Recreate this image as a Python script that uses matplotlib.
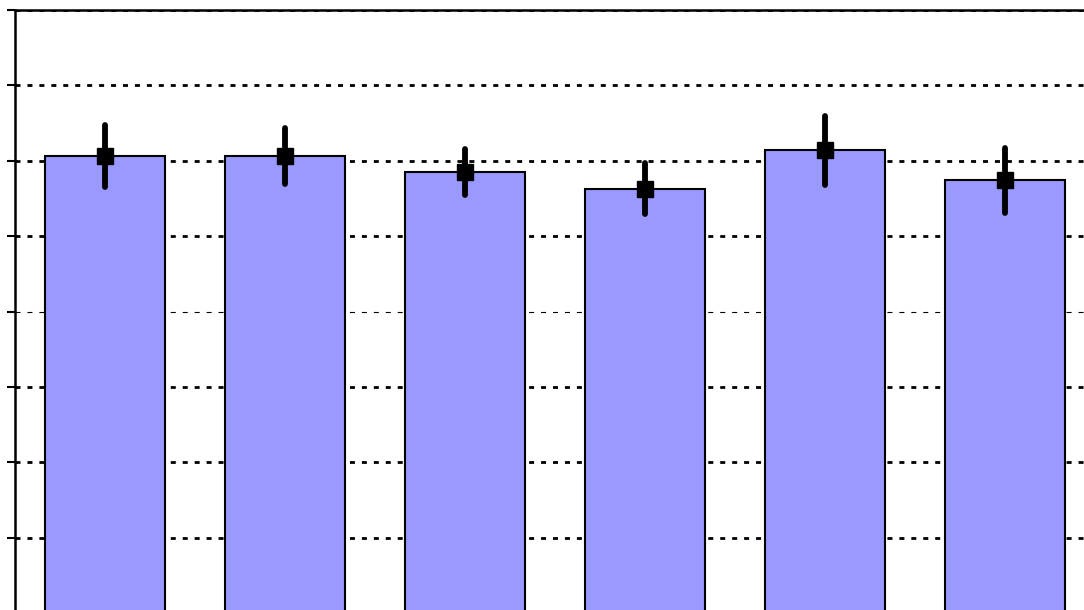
import matplotlib
matplotlib.use("Agg")
import matplotlib.pyplot as plt

# values per group
groups = ["1", "2", "3", "4", "5", "6"]
means = [6.06, 6.06, 5.85, 5.63, 6.14, 5.74]
errors = [0.41, 0.37, 0.31, 0.34, 0.46, 0.43]
y_ticks = [0, 1, 2, 3, 4, 5, 6, 7, 8]

plt.rcParams["lines.scale_dashes"] = False

fig = plt.figure(figsize=(10.84, 6.10), dpi=100)
# plot area runs slightly past the right and bottom edges
ax = fig.add_axes([15 / 1084, -3 / 610, 1080 / 1084, 603 / 610])

x = range(len(groups))
ax.bar(x, means, width=0.667, color="#9999ff", edgecolor="black",
       linewidth=1.5, zorder=2)

eb = ax.errorbar(x, means, yerr=errors, fmt="s", color="black",
                 markersize=11, elinewidth=4.2, capsize=0, zorder=3)
for col in eb[2]:
    col.set_capstyle("round")

ax.set_xlim(-0.5, 5.5)
ax.set_ylim(0, 8)
ax.set_yticks(y_ticks)
ax.set_xticks([])
ax.tick_params(axis="y", direction="out", length=6, width=1.5,
               labelleft=False)

ax.grid(axis="y", color="black", linewidth=2.0,
        linestyle=(0, (3.6, 5.0)), zorder=1)
ax.set_axisbelow(True)
# the middle grid line is drawn thinner
for val, gl in zip(y_ticks, ax.yaxis.get_gridlines()):
    if val == 4:
        gl.set_linewidth(0.8)

for side in ["left", "top", "right", "bottom"]:
    ax.spines[side].set_linewidth(1.8)

fig.savefig("out.png", dpi=100)
